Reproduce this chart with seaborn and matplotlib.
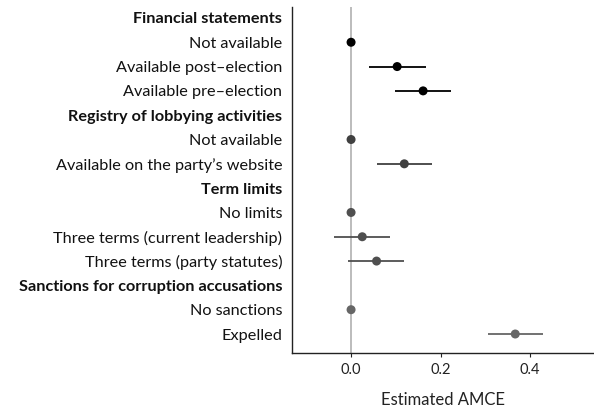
import numpy as np
import pandas as pd
import matplotlib
matplotlib.use("Agg")
import matplotlib.pyplot as plt
import seaborn as sns

labels = ["Financial statements", "Not available", "Available post\u2013election", "Available pre\u2013election",
          "Registry of lobbying activities", "Not available", "Available on the party\u2019s website",
          "Term limits", "No limits", "Three terms (current leadership)", "Three terms (party statutes)",
          "Sanctions for corruption accusations", "No sanctions", "Expelled"]
is_header = [True, False, False, False, True, False, False, True, False, False, False, True, False, False]
group = ["Financial statements"] * 4 + ["Registry"] * 3 + ["Term limits"] * 4 + ["Sanctions"] * 3
estimate = [np.nan, 0.0, 0.103, 0.161, np.nan, 0.0, 0.119, np.nan, 0.0, 0.025, 0.057, np.nan, 0.0, 0.367]
lower = [np.nan, np.nan, 0.041, 0.098, np.nan, np.nan, 0.057, np.nan, np.nan, -0.038, -0.006, np.nan, np.nan, 0.305]
upper = [np.nan, np.nan, 0.167, 0.224, np.nan, np.nan, 0.182, np.nan, np.nan, 0.087, 0.119, np.nan, np.nan, 0.430]
group_colors = {"Financial statements": "#000000", "Registry": "#404040",
                "Term limits": "#4f4f4f", "Sanctions": "#666666"}
xticks = [0.0, 0.2, 0.4]

df = pd.DataFrame({"label": labels, "header": is_header, "group": group,
                   "estimate": estimate, "lower": lower, "upper": upper})
df["pos"] = np.arange(len(df))

sns.set_theme(style="white")
plt.rcParams["font.family"] = ["Lato", "DejaVu Sans"]

fig = plt.figure(figsize=(5.94, 4.09), dpi=100)
ax = fig.add_axes([0.4916, 0.137, 0.5084, 0.8447])

ax.axvline(0, color="#b0b0b0", lw=1.2, zorder=1)

ci = df.dropna(subset=["lower"])
for _, r in ci.iterrows():
    ax.hlines(r["pos"], r["lower"], r["upper"], color=group_colors[r["group"]], lw=1.3, zorder=2)

pts = df.dropna(subset=["estimate"])
sns.scatterplot(data=pts, x="estimate", y="pos", hue="group", palette=group_colors,
                s=42, edgecolor="none", legend=False, ax=ax, zorder=3)

ax.set_ylim(13.78, -0.43)
ax.set_xlim(-0.132, 0.543)
ax.set_yticks(df["pos"])
ax.set_yticklabels(df["label"])
for t, h in zip(ax.get_yticklabels(), df["header"]):
    t.set_fontsize(11.7)
    t.set_color("#111111")
    if h:
        t.set_fontweight("bold")
ax.set_xticks(xticks)
ax.set_xticklabels([f"{v:.1f}" for v in xticks], fontsize=10.5, color="#222222")
ax.tick_params(axis="y", length=0, pad=7)
ax.tick_params(axis="x", length=3, width=0.8, color="#222222", pad=4, direction="out", bottom=True)
ax.set_xlabel("Estimated AMCE", fontsize=12, color="#222222", labelpad=11)
ax.set_ylabel("")

for s in ["top", "right"]:
    ax.spines[s].set_visible(False)
for s in ["left", "bottom"]:
    ax.spines[s].set_color("#222222")
    ax.spines[s].set_linewidth(1.0)

fig.savefig("out.png", dpi=100)
